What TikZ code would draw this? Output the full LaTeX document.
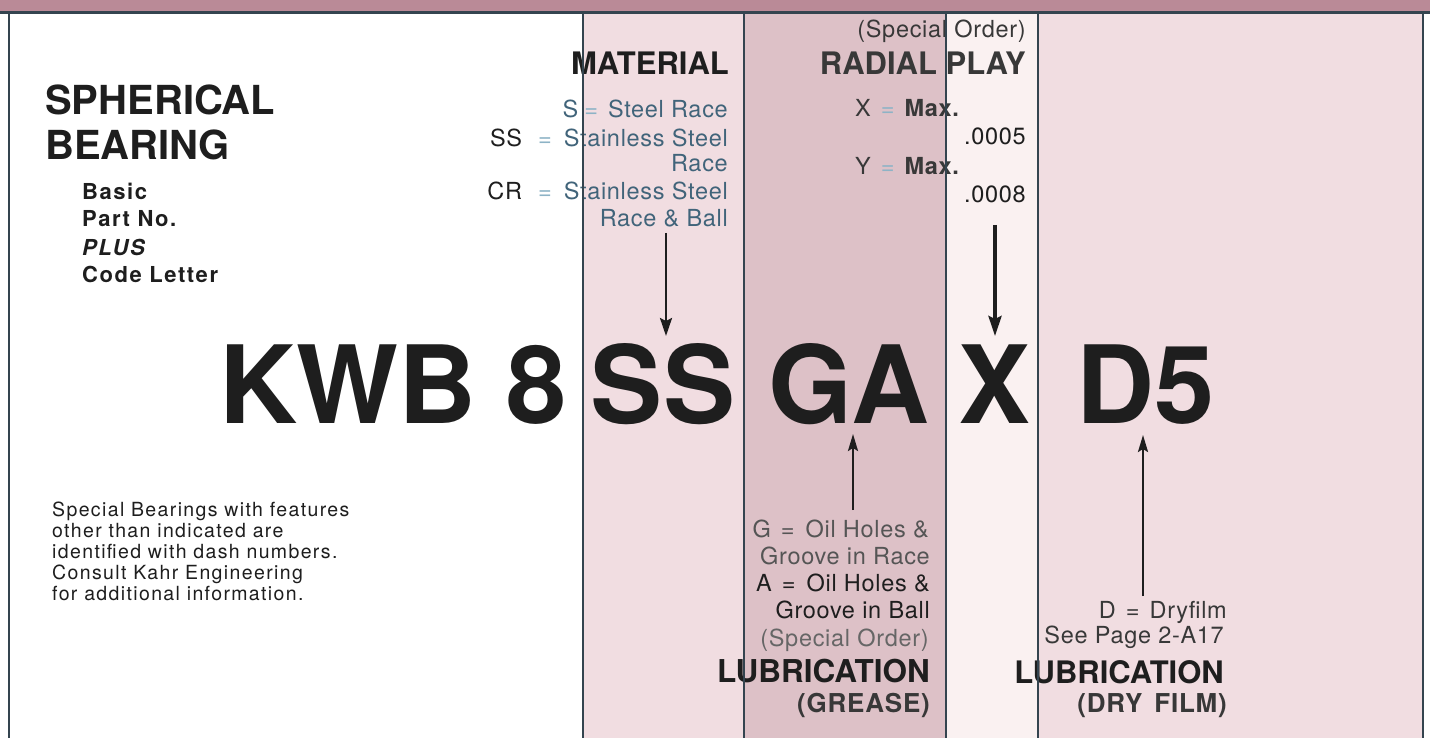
\documentclass[tikz,border=0pt]{standalone}
\usepackage{fontspec}
\setmainfont{TeX Gyre Heros}
\newfontfamily\dsc[LetterSpace=3]{TeX Gyre Heros}
\newfontfamily\sub[LetterSpace=7]{TeX Gyre Heros}
\newfontfamily\nte[LetterSpace=7]{TeX Gyre Heros}
\usetikzlibrary{arrows.meta}
\definecolor{band}{HTML}{BA8A97}
\definecolor{lpink}{HTML}{F1DDE1}
\definecolor{dpink}{HTML}{DDC1C7}
\definecolor{wpink}{HTML}{FAF1F1}
\definecolor{rule}{HTML}{34444F}
\definecolor{ink}{HTML}{1E1E1E}
\definecolor{slate}{HTML}{41647A}
\definecolor{eqblue}{HTML}{8DB3C6}
\definecolor{soft}{HTML}{555555}
\definecolor{mid}{HTML}{383838}
\newcommand\fsz[1]{\fontsize{#1}{#1}\selectfont}
\newcommand\eqs[2]{\hspace{#1}=\hspace{#2}}
\tikzset{
  txt/.style={inner sep=0pt, text=ink},
  rt/.style={txt, anchor=base east},
  lt/.style={txt, anchor=base west},
  ct/.style={txt, anchor=base},
  desc/.style={font=\dsc\fsz{23.5}},
  head/.style={font=\bfseries\fsz{31}},
  colrule/.style={draw=rule, line width=2.2pt},
  arrbold/.style={draw=ink, line width=3.6pt, -{Stealth[length=20pt,width=13pt,inset=3pt]}},
  arr/.style={draw=ink, line width=2.4pt, -{Stealth[length=18pt,width=12pt,inset=3pt]}},
  arrthin/.style={draw=ink, line width=2.2pt, -{Stealth[length=17pt,width=10pt,inset=3pt]}},
}
\begin{document}
\begin{tikzpicture}[x=1pt,y=-1pt]
\useasboundingbox (0,0) rectangle (1430,738);
% background
\fill[white] (0,0) rectangle (1430,738);
\fill[band] (0,0) rectangle (1430,12);
\fill[lpink] (583,13) rectangle (744,738);
\fill[dpink] (744,13) rectangle (946,738);
\fill[wpink] (946,13) rectangle (1038,738);
\fill[lpink] (1038,13) rectangle (1423,738);

% left titles
\node[lt, font=\bfseries\fsz{40}] (sph) at (45,115) {SPHERICAL};
\node[lt, font=\bfseries\fsz{40}] (bea) at (45,160) {BEARING};
\node[lt, font=\sub\bfseries\fsz{22}] (basic) at (82,200) {Basic};
\node[lt, font=\sub\bfseries\fsz{22}] (partno) at (82,227) {Part No.};
\node[lt, font=\sub\bfseries\itshape\fsz{22}] (plus) at (82,255) {PLUS};
\node[lt, font=\sub\bfseries\fsz{22}] (code) at (82,282) {Code Letter};

% note
\node[lt, font=\nte\fsz{19.5}] (n1) at (52,516) {Special Bearings with features};
\node[lt, font=\nte\fsz{19.5}] (n2) at (52,537) {other than indicated are};
\node[lt, font=\nte\fsz{19.5}] (n3) at (52,558) {identified with dash numbers.};
\node[lt, font=\nte\fsz{19.5}] (n4) at (52,579) {Consult Kahr Engineering};
\node[lt, font=\nte\fsz{19.5}] (n5) at (52,600) {for additional information.};

% material
\node[rt, head] (mat) at (729,75) {MATERIAL};
\node[rt, desc, text=slate] (m1) at (728,118) {S\textcolor{eqblue}{\eqs{6pt}{10pt}}Steel Race};
\node[rt, desc] (m2) at (728,147) {SS\textcolor{eqblue}{\eqs{16pt}{12pt}}\textcolor{slate}{Stainless Steel}};
\node[rt, desc, text=slate] (m3) at (728,172) {Race};
\node[rt, desc] (m4) at (728,200) {CR\textcolor{eqblue}{\eqs{16pt}{12pt}}\textcolor{slate}{Stainless Steel}};
\node[rt, desc, text=slate] (m5) at (728,227) {Race \& Ball};

% radial play
\node[rt, desc, text=mid] (so1) at (1026,38) {(Special Order)};
\node[rt, head, text=mid] (rad) at (1026,75) {RADIAL PLAY};
\node[lt, desc, text=mid] (r1) at (855,117) {X\textcolor{eqblue}{\eqs{10pt}{10pt}}\textbf{Max.}};
\node[rt, desc] (r2) at (1026,145) {.0005};
\node[lt, desc, text=mid] (r3) at (855,175) {Y\textcolor{eqblue}{\eqs{10pt}{10pt}}\textbf{Max.}};
\node[rt, desc] (r4) at (1026,203) {.0008};

% code
\node[ct, font=\bfseries\fsz{108}] (kwb) at (393,423) {KWB 8};
\node[ct, font=\bfseries\fsz{108}] (ss) at (663,423) {SS};
\node[ct, font=\bfseries\fsz{108}] (ga) at (849,423) {GA};
\node[ct, font=\bfseries\fsz{108}] (x) at (995,423) {X};
\node[ct, font=\bfseries\fsz{108}] (d5) at (1146,423) {D5};

% lubrication grease
\node[rt, desc, text=soft] (g1) at (929,537) {G\eqs{10pt}{11pt}Oil Holes \&};
\node[rt, desc, text=soft] (g2) at (930,564) {Groove in Race};
\node[rt, desc] (g3) at (930,591) {A\eqs{10pt}{11pt}Oil Holes \&};
\node[rt, desc] (g4) at (930,618) {Groove in Ball};
\node[rt, desc, text=soft!90] (g5) at (929,646) {(Special Order)};
\node[rt, font=\bfseries\fsz{31.5}] (lubg) at (930,682) {LUBRICATION};
\node[rt, font=\dsc\bfseries\fsz{26}, text=mid] (grease) at (930,712) {(GREASE)};

% lubrication dry film
\node[rt, desc, text=mid] (d1) at (1227,618) {D\eqs{10pt}{10pt}Dryfilm};
\node[rt, desc, text=mid] (d2) at (1224,643) {See Page 2-A17};
\node[rt, head] (lubd) at (1224,683) {LUBRICATION};
\node[rt, font=\dsc\bfseries\fsz{26}, text=mid] (dry) at (1227,712) {(DRY\hspace{4pt} FILM)};

% rules
\draw[rule, line width=3pt] (0,13) -- (1430,13);
\coordinate (bl) at (9,13); \coordinate (bl2) at (9,738);
\draw[colrule] (bl) -- (bl2);
\foreach \xx/\nm in {583/c1,744/c2,946/c3,1038/c4,1423/c5}{
  \coordinate (\nm t) at (\xx,13);
  \coordinate (\nm b) at (\xx,738);
  \draw[colrule] (\nm t) -- (\nm b);
}

% arrows
\coordinate (aSSs) at (666,233); \coordinate (aSSe) at (666,336);
\draw[arr] (aSSs) -- (aSSe);
\coordinate (aXs) at (995,225); \coordinate (aXe) at (995,336);
\draw[arrbold] (aXs) -- (aXe);
\coordinate (aGAs) at (853,510); \coordinate (aGAe) at (853,434);
\draw[arrthin] (aGAs) -- (aGAe);
\coordinate (aDs) at (1143,596); \coordinate (aDe) at (1143,435);
\draw[arrthin] (aDs) -- (aDe);
\end{tikzpicture}
\end{document}
